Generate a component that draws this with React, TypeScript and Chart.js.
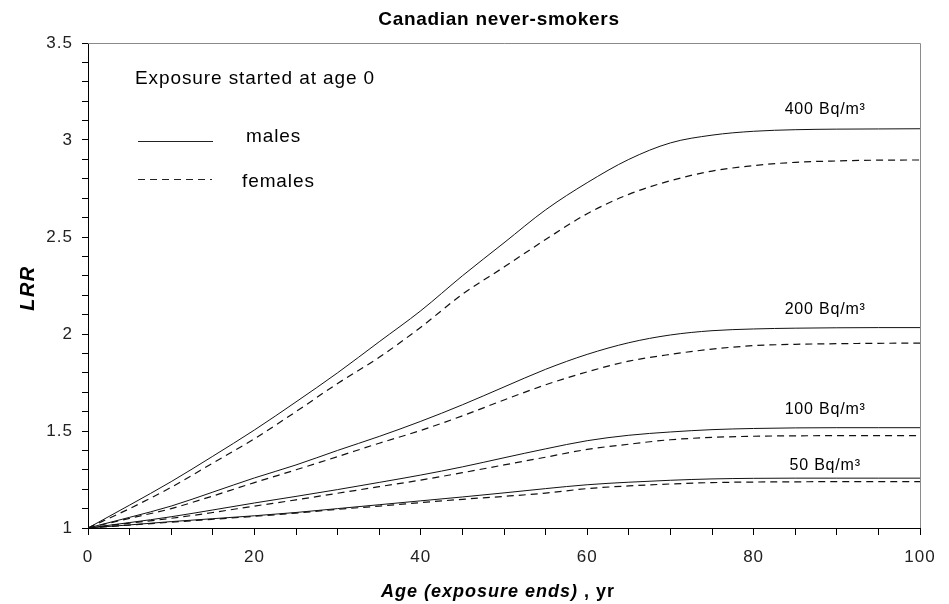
import React, { useEffect, useRef } from "react";
import { Chart, registerables } from "chart.js";

Chart.register(...registerables);

const ages = [0, 5, 10, 15, 20, 25, 30, 35, 40, 45, 50, 55, 60, 65, 70, 75, 80, 85, 90, 95, 100];

const male400 = [1.0, 1.118, 1.239, 1.37, 1.505, 1.65, 1.8, 1.96, 2.12, 2.3, 2.47, 2.64, 2.78, 2.9, 2.985, 3.025, 3.045, 3.053, 3.056, 3.057, 3.058];
const female400 = [1.0, 1.1, 1.21, 1.335, 1.46, 1.6, 1.745, 1.88, 2.035, 2.205, 2.345, 2.487, 2.62, 2.72, 2.79, 2.84, 2.868, 2.885, 2.892, 2.896, 2.897];
const male200 = [1.0, 1.055, 1.113, 1.185, 1.258, 1.325, 1.4, 1.472, 1.55, 1.635, 1.727, 1.818, 1.895, 1.955, 1.995, 2.017, 2.026, 2.03, 2.032, 2.033, 2.033];
const female200 = [1.0, 1.05, 1.1, 1.165, 1.234, 1.3, 1.368, 1.437, 1.503, 1.578, 1.66, 1.738, 1.805, 1.86, 1.895, 1.922, 1.94, 1.947, 1.95, 1.952, 1.953];
const male100 = [1.0, 1.028, 1.058, 1.093, 1.129, 1.163, 1.198, 1.235, 1.273, 1.315, 1.362, 1.408, 1.45, 1.478, 1.495, 1.507, 1.513, 1.516, 1.517, 1.517, 1.517];
const female100 = [1.0, 1.025, 1.05, 1.08, 1.113, 1.145, 1.179, 1.213, 1.247, 1.285, 1.325, 1.365, 1.405, 1.432, 1.455, 1.467, 1.473, 1.475, 1.476, 1.476, 1.476];
const male50 = [1.0, 1.016, 1.033, 1.048, 1.063, 1.08, 1.1, 1.12, 1.14, 1.16, 1.181, 1.203, 1.223, 1.236, 1.246, 1.253, 1.256, 1.257, 1.257, 1.257, 1.257];
const female50 = [1.0, 1.015, 1.03, 1.045, 1.06, 1.077, 1.096, 1.113, 1.131, 1.148, 1.163, 1.18, 1.203, 1.217, 1.227, 1.234, 1.237, 1.238, 1.239, 1.239, 1.239];

const levelLabels = ["400 Bq/m³", "200 Bq/m³", "100 Bq/m³", "50 Bq/m³"];
const levelMales = [male400, male200, male100, male50];
const levelFemales = [female400, female200, female100, female50];

const chartTitle = "Canadian never-smokers";
const xTitleMain = "Age (exposure ends)";
const xTitleUnit = " , yr";
const yTitle = "LRR";
const noteText = "Exposure started at age 0";
const maleText = "males";
const femaleText = "females";

const FONT = '"Liberation Sans", Arial, sans-serif';

const toPoints = (vals: number[]) => ages.map((a, i) => ({ x: a, y: vals[i] }));

const spacing = {
  id: "spacing",
  beforeDraw(chart: any) {
    chart.ctx.letterSpacing = "1px";
  },
};

const overlay = {
  id: "overlay",
  afterDraw(chart: any) {
    const { ctx, chartArea } = chart;
    const xs = chart.scales.x;
    const ys = chart.scales.y;
    ctx.save();
    // frame top & right
    ctx.strokeStyle = "#8a8a8a";
    ctx.lineWidth = 1;
    ctx.beginPath();
    ctx.moveTo(chartArea.left, chartArea.top + 0.5);
    ctx.lineTo(chartArea.right + 0.5, chartArea.top + 0.5);
    ctx.lineTo(chartArea.right + 0.5, chartArea.bottom);
    ctx.stroke();

    ctx.fillStyle = "#000";
    // title
    ctx.letterSpacing = "0.7px";
    ctx.font = `bold 19px ${FONT}`;
    ctx.textAlign = "center";
    ctx.textBaseline = "middle";
    ctx.fillText(chartTitle, 499, 20);

    // x title
    ctx.letterSpacing = "1px";
    ctx.font = `bold italic 18px ${FONT}`;
    const w1 = ctx.measureText(xTitleMain).width;
    ctx.font = `bold 18px ${FONT}`;
    const w2 = ctx.measureText(xTitleUnit).width;
    const start = 498 - (w1 + w2) / 2;
    ctx.textAlign = "left";
    ctx.font = `bold italic 18px ${FONT}`;
    ctx.fillText(xTitleMain, start, 592);
    ctx.font = `bold 18px ${FONT}`;
    ctx.fillText(xTitleUnit, start + w1, 592);

    // y title
    ctx.save();
    ctx.translate(28, 288);
    ctx.rotate(-Math.PI / 2);
    ctx.textAlign = "center";
    ctx.letterSpacing = "1.5px";
    ctx.font = `bold italic 20px ${FONT}`;
    ctx.fillText(yTitle, 0, 0);
    ctx.restore();

    // note and legend
    ctx.textAlign = "left";
    ctx.letterSpacing = "0.9px";
    ctx.font = `19px ${FONT}`;
    ctx.fillText(noteText, 135, 79);
    ctx.fillText(maleText, 246, 137);
    ctx.fillText(femaleText, 242, 182);
    ctx.strokeStyle = "#222";
    ctx.lineWidth = 1;
    ctx.beginPath();
    ctx.moveTo(138, 141.5);
    ctx.lineTo(213, 141.5);
    ctx.stroke();
    ctx.setLineDash([7, 5]);
    ctx.beginPath();
    ctx.moveTo(138, 179.5);
    ctx.lineTo(212, 179.5);
    ctx.stroke();
    ctx.setLineDash([]);

    // level labels above each male curve end
    ctx.font = `16px ${FONT}`;
    ctx.letterSpacing = "0.8px";
    ctx.textAlign = "center";
    ctx.textBaseline = "middle";
    const gaps = [19, 18, 18, 13];
    levelLabels.forEach((lab, i) => {
      const v = levelMales[i][levelMales[i].length - 1];
      const py = ys.getPixelForValue(v);
      const px = xs.getPixelForValue(88.6);
      ctx.fillText(lab, px, py - gaps[i]);
    });
    ctx.restore();
  },
};

export default function App() {
  const ref = useRef<HTMLCanvasElement | null>(null);
  useEffect(() => {
    if (!ref.current) return;
    const datasets: any[] = [];
    levelLabels.forEach((lab, i) => {
      datasets.push({
        label: lab + " males",
        data: toPoints(levelMales[i]),
        borderColor: "#111",
        borderWidth: 1,
        pointRadius: 0,
        cubicInterpolationMode: "monotone",
        fill: false,
      });
      datasets.push({
        label: lab + " females",
        data: toPoints(levelFemales[i]),
        borderColor: "#111",
        borderWidth: 1.2,
        borderDash: [7, 5],
        pointRadius: 0,
        cubicInterpolationMode: "monotone",
        fill: false,
      });
    });
    const chart = new Chart(ref.current, {
      type: "line",
      data: { datasets },
      options: {
        animation: false,
        responsive: false,
        maintainAspectRatio: false,
        layout: { padding: { left: 0, right: 29, top: 43, bottom: 0 } },
        plugins: { legend: { display: false }, tooltip: { enabled: false }, title: { display: false } },
        scales: {
          x: {
            type: "linear",
            min: 0,
            max: 100,
            afterFit: (s: any) => { s.height = 76; },
            ticks: {
              stepSize: 5,
              autoSkip: false,
              maxRotation: 0,
              padding: 12,
              color: "#222",
              font: { family: FONT, size: 17 },
              callback: (v: any) => (Math.abs(v % 20) < 1e-6 ? String(v) : ""),
            },
            grid: { display: true, drawOnChartArea: false, drawTicks: true, tickLength: 7, color: "#000" },
            border: { display: true, color: "#000", width: 1 },
          },
          y: {
            type: "linear",
            min: 1,
            max: 3.5,
            afterFit: (s: any) => { s.width = 88; },
            ticks: {
              stepSize: 0.1,
              autoSkip: false,
              padding: 9,
              color: "#222",
              font: { family: FONT, size: 17 },
              callback: (v: any) => {
                const n = Number(v);
                return Math.abs(n * 2 - Math.round(n * 2)) < 1e-6 ? String(Math.round(n * 2) / 2) : "";
              },
            },
            grid: { display: true, drawOnChartArea: false, drawTicks: true, tickLength: 6, color: "#000" },
            border: { display: true, color: "#000", width: 1 },
          },
        },
      },
      plugins: [spacing, overlay],
    });
    return () => chart.destroy();
  }, []);
  return (
    <div style={{ position: "fixed", left: 0, top: 0, width: 949, height: 604, background: "#fff" }}>
      <canvas ref={ref} width={949} height={604} style={{ width: 949, height: 604 }} />
    </div>
  );
}
